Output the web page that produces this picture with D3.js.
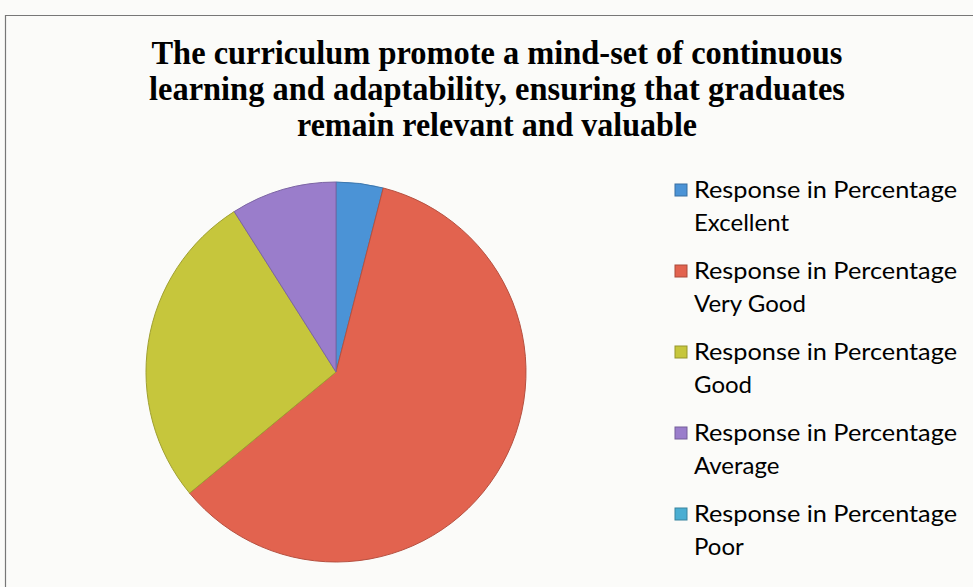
<!DOCTYPE html>
<html>
<head>
<meta charset="utf-8">
<script src="https://cdn.jsdelivr.net/npm/d3@7"></script>
<style>
  body { margin: 0; background: #fbfbf9; }
  svg { display: block; }
</style>
</head>
<body>
<script>
// chart data
var categories = ["Excellent", "Very Good", "Good", "Average", "Poor"];
var values = [4, 60, 27, 9, 0];
var colors = ["#4b93d6", "#e2634f", "#c6c63c", "#9a7dcb", "#4aaed2"];
var seriesName = "Response in Percentage";
var titleLines = [
  "The curriculum promote a mind-set of continuous",
  "learning and adaptability, ensuring that graduates",
  "remain relevant and valuable"
];

var width = 973, height = 587;

var svg = d3.select("body").append("svg")
    .attr("width", width)
    .attr("height", height);

// chart frame
svg.append("path")
    .attr("d", "M5.5," + height + "V15.5H" + width)
    .attr("fill", "none")
    .attr("stroke", "#777")
    .attr("stroke-width", 1.2);

// title (condensed bold serif, squeezed to the widths in the picture)
var titleWidths = [691, 696, 400];
svg.append("g").selectAll("text")
    .data(titleLines)
  .enter().append("text")
    .attr("x", 497)
    .attr("y", function(d, i) { return 64 + i * 36; })
    .attr("text-anchor", "middle")
    .attr("textLength", function(d, i) { return titleWidths[i]; })
    .attr("lengthAdjust", "spacingAndGlyphs")
    .style("font-family", "'Liberation Serif', 'DejaVu Serif', serif")
    .style("font-weight", "bold")
    .style("font-size", "34px")
    .style("fill", "#000")
    .text(function(d) { return d; });

// pie
var data = categories.map(function(c, i) { return {name: c, value: values[i], color: colors[i]}; });

var pie = d3.pie()
    .sort(null)
    .value(function(d) { return d.value; });

var arc = d3.arc()
    .innerRadius(0)
    .outerRadius(190);

var g = svg.append("g")
    .attr("transform", "translate(336,372)");

g.selectAll("path")
    .data(pie(data).filter(function(d) { return d.value > 0; }))
  .enter().append("path")
    .attr("d", arc)
    .attr("fill", function(d) { return d.data.color; })
    .attr("stroke", function(d) { return d3.color(d.data.color).darker(0.6); })
    .attr("stroke-width", 1);

// legend
var legend = svg.append("g")
    .attr("transform", "translate(675,0)");

var item = legend.selectAll("g")
    .data(data)
  .enter().append("g")
    .attr("transform", function(d, i) { return "translate(0," + (198 + i * 81) + ")"; });

item.append("rect")
    .attr("x", 0)
    .attr("y", -14)
    .attr("width", 12)
    .attr("height", 12)
    .attr("fill", function(d) { return d.color; })
    .attr("stroke", function(d) { return d3.color(d.color).darker(0.8); })
    .attr("stroke-width", 1);

item.append("text")
    .attr("x", 19)
    .attr("y", 0)
    .attr("textLength", 263)
    .attr("lengthAdjust", "spacingAndGlyphs")
    .style("font-family", "Lato, 'Open Sans', sans-serif")
    .style("font-size", "24px")
    .style("fill", "#000")
    .text(seriesName);

item.append("text")
    .attr("x", 19)
    .attr("y", 33)
    .style("font-family", "Lato, 'Open Sans', sans-serif")
    .style("font-size", "24px")
    .style("fill", "#000")
    .text(function(d) { return d.name; });
</script>
</body>
</html>
